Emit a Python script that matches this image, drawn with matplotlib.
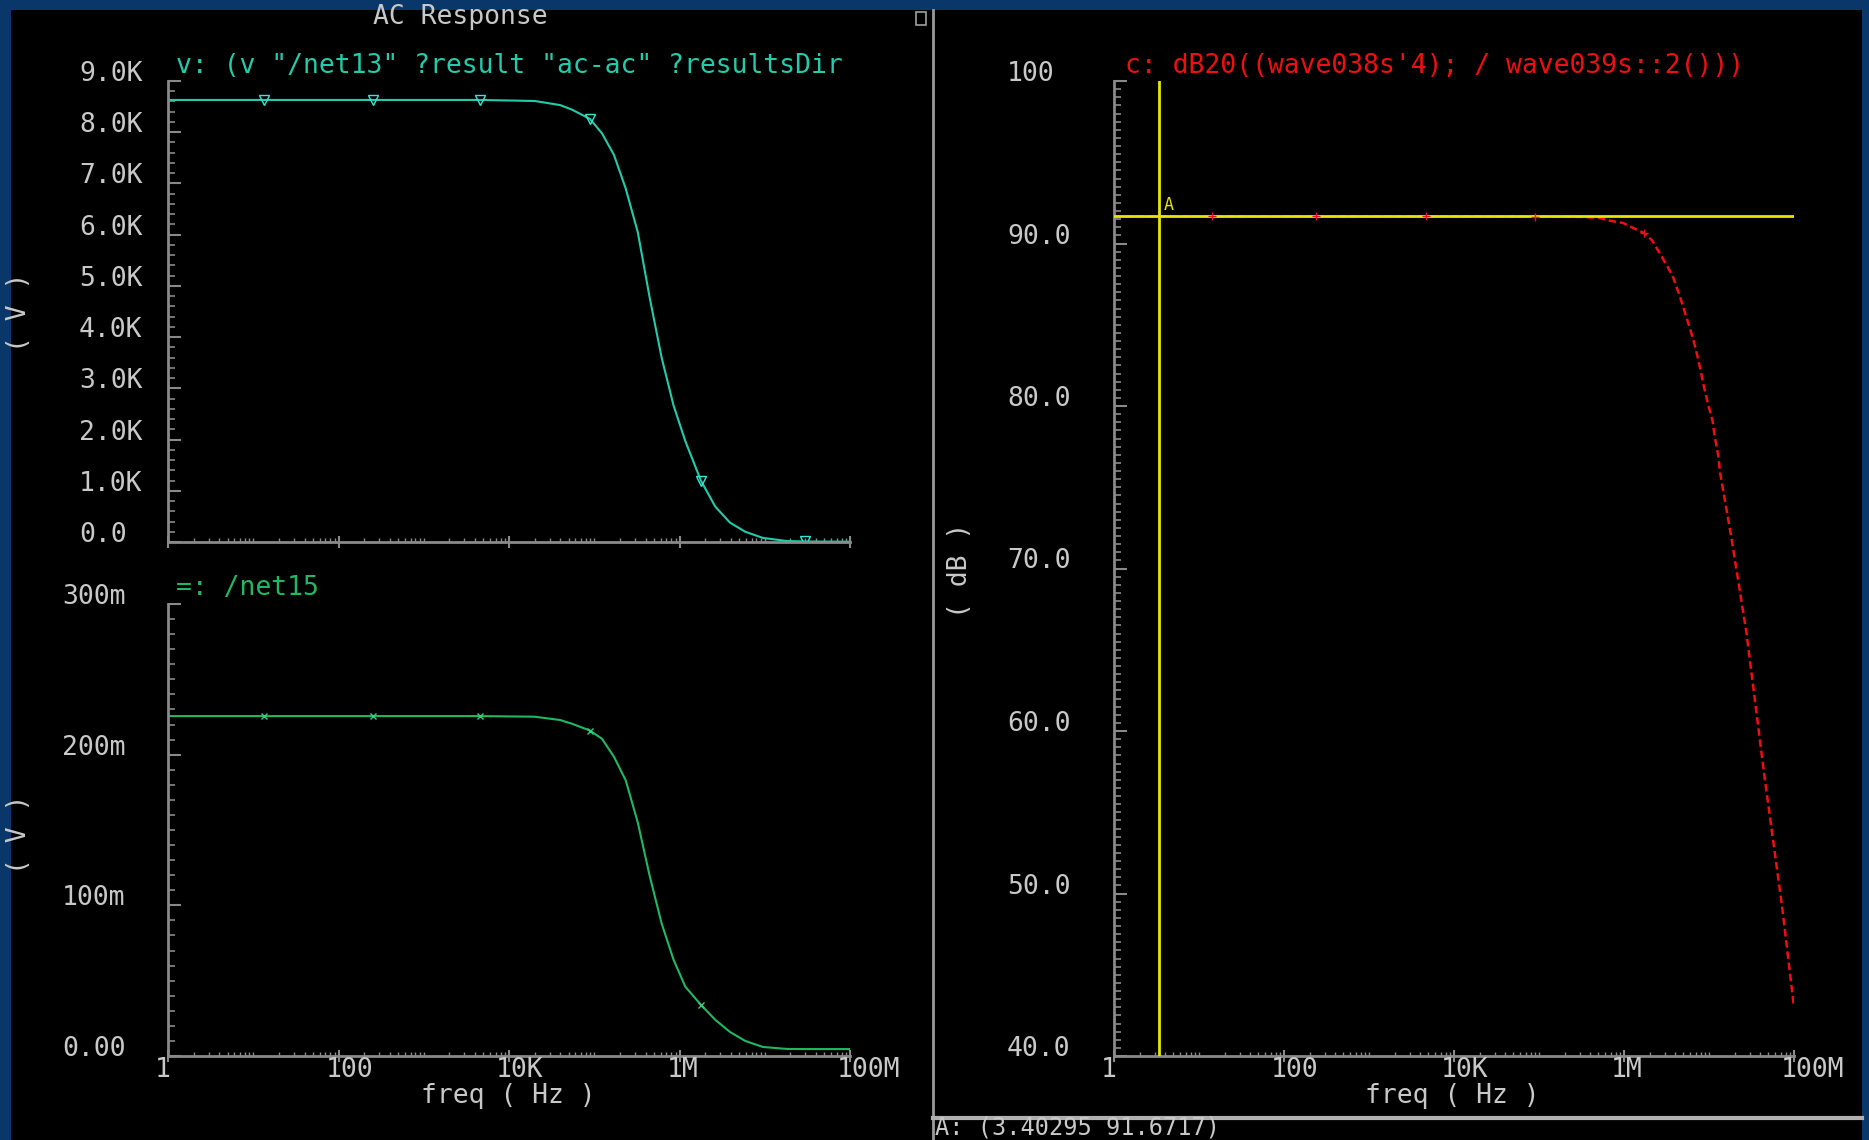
import numpy as np
import matplotlib
matplotlib.use('Agg')
import matplotlib.pyplot as plt
from matplotlib.patches import Rectangle
from matplotlib.lines import Line2D
from matplotlib.ticker import FixedLocator, AutoMinorLocator, LogLocator, NullFormatter
from matplotlib.transforms import blended_transform_factory, ScaledTranslation

W, H = 1869, 1140
DPI = 100

# /net13 and /net15 magnitude vs frequency (Hz, V)
freq_v = [1.0, 13.5, 251, 4570, 2.0e4, 3.98e4, 5.5e4, 8.9e4, 1.23e5, 1.7e5, 2.34e5, 3.24e5,
          4.47e5, 6.17e5, 8.5e5, 1.17e6, 1.78e6, 2.63e6, 3.9e6, 5.9e6, 9.5e6, 1.8e7, 3.0e7, 1.0e8]
net13 = [8630, 8630, 8630, 8630, 8610, 8530, 8440, 8260, 7980, 7560, 6900, 6050,
         4770, 3600, 2670, 1970, 1200, 690, 380, 200, 80, 20, 10, 5]
net15 = [0.2256, 0.2256, 0.2256, 0.2256, 0.2252, 0.2230, 0.2205, 0.2160, 0.2106, 0.1987, 0.1830, 0.1550,
         0.1195, 0.0880, 0.0640, 0.0460, 0.0340, 0.0240, 0.0160, 0.0100, 0.0060, 0.0047, 0.0046, 0.0046]
net13_marks = [1, 2, 3, 7, 16, 22]
net15_marks = [1, 2, 3, 7, 16]

# gain in dB
freq_db = [1.0, 14.1, 240, 4680, 8.9e4, 3.16e5, 5.0e5, 6.9e5, 9.8e5, 1.29e6, 1.70e6, 2.14e6,
           2.63e6, 3.24e6, 3.8e6, 4.57e6, 5.25e6, 6.03e6, 6.92e6, 7.59e6, 8.71e6, 9.77e6,
           1.10e7, 1.17e7, 1.29e7, 1.35e7, 1.82e7, 2.75e7, 4.47e7, 7.24e7, 1.0e8]
gain_db = [91.67, 91.67, 91.67, 91.67, 91.66, 91.64, 91.58, 91.40, 91.26, 90.95, 90.66, 90.2,
           89.4, 88.6, 87.9, 86.7, 85.7, 84.7, 83.6, 82.7, 81.2, 80.1,
           79.1, 78.1, 76.9, 75.9, 72.0, 66.1, 57.3, 49.2, 43.0]
gain_marks = [1, 2, 3, 4, 10]

cursor_f = 3.40295
cursor_db = 91.6717

x_ticks = [1, 1e2, 1e4, 1e6, 1e8]
x_labels = ['1', '100', '10K', '1M', '100M']
v13_ticks = [0, 1000, 2000, 3000, 4000, 5000, 6000, 7000, 8000, 9000]
v13_labels = ['0.0', '1.0K', '2.0K', '3.0K', '4.0K', '5.0K', '6.0K', '7.0K', '8.0K', '9.0K']
v15_ticks = [0, 0.1, 0.2, 0.3]
v15_labels = ['0.00', '100m', '200m', '300m']
db_ticks = [40, 50, 60, 70, 80, 90, 100]
db_labels = ['40.0', '50.0', '60.0', '70.0', '80.0', '90.0', '100']

BLUE = '#0a3769'
GRAY = '#8a8a8a'
TXT = '#c8c8c8'
TEAL = '#22ccaa'
GREEN = '#20b865'
RED = '#ee1010'
YELLOW = '#e6e600'
FS = 19

plt.rcParams['font.family'] = ['DejaVu Sans Mono', 'DejaVu Sans']

fig = plt.figure(figsize=(W / DPI, H / DPI), dpi=DPI, facecolor=BLUE)
fig.add_artist(Rectangle((11 / W, 0), (W - 18) / W, 1 - 10 / H,
                         transform=fig.transFigure, facecolor='black', edgecolor='none', zorder=0))


def px_axes(x0, y0, x1, y1):
    return fig.add_axes([x0 / W, 1 - y1 / H, (x1 - x0) / W, (y1 - y0) / H])


def style_axes(ax, ylim, yticks, ylabels, label_x, minor_n):
    ax.set_facecolor('black')
    ax.set_xscale('log')
    ax.set_xlim(1, 1e8)
    ax.set_ylim(*ylim)
    for s in ('top', 'right'):
        ax.spines[s].set_visible(False)
    for s in ('left', 'bottom'):
        ax.spines[s].set_color(GRAY)
        ax.spines[s].set_linewidth(2)
    ax.xaxis.set_major_locator(FixedLocator(x_ticks))
    ax.xaxis.set_minor_locator(LogLocator(base=10, subs=np.arange(1, 10), numticks=200))
    ax.xaxis.set_minor_formatter(NullFormatter())
    ax.yaxis.set_major_locator(FixedLocator(yticks))
    ax.yaxis.set_minor_locator(AutoMinorLocator(minor_n))
    ax.tick_params(which='both', labelbottom=False, labelleft=False, color=GRAY)
    ax.tick_params(axis='y', which='major', direction='in', length=9, width=1.5)
    ax.tick_params(axis='y', which='minor', direction='in', length=5, width=1.2)
    ax.tick_params(axis='x', which='major', direction='inout', length=8, width=1.5)
    ax.tick_params(axis='x', which='minor', direction='in', length=3, width=1)
    trans = blended_transform_factory(fig.transFigure, ax.transData)
    for v, t in zip(yticks, ylabels):
        ax.text(label_x / W, v, t, transform=trans, ha='left', va='baseline',
                color=TXT, fontsize=FS)


def freq_labels(ax, y_px):
    trans = blended_transform_factory(ax.transData, fig.transFigure) + \
        ScaledTranslation(-13 / DPI, 0, fig.dpi_scale_trans)
    for f, t in zip(x_ticks, x_labels):
        ax.text(f, 1 - y_px / H, t, transform=trans, ha='left', va='center',
                color=TXT, fontsize=FS)


# top left: /net13
ax1 = px_axes(168, 81, 850, 542)
style_axes(ax1, (0, 9000), v13_ticks, v13_labels, 79, 5)
ax1.plot(freq_v, net13, color=TEAL, lw=1.5, marker='v', markersize=7,
         markerfacecolor='none', markeredgecolor='#38e6d6', markevery=net13_marks)

# bottom left: /net15
ax2 = px_axes(168, 604, 850, 1056)
style_axes(ax2, (0, 0.3), v15_ticks, v15_labels, 62, 10)
ax2.plot(freq_v, net15, color=GREEN, lw=1.5, marker='x', markersize=5,
         markeredgecolor='#30d080', markevery=net15_marks)
freq_labels(ax2, 1070)

# right: gain in dB with cursor A
ax3 = px_axes(1114, 81, 1794, 1056)
style_axes(ax3, (40, 100), db_ticks, db_labels, 1007, 20)
ax3.plot(freq_db, gain_db, color=RED, lw=1.8, ls=(0, (3, 1.5)), zorder=2)
ax3.axvline(cursor_f, color=YELLOW, lw=2, zorder=3)
ax3.axhline(cursor_db, color=YELLOW, lw=2, zorder=3)
ax3.plot([freq_db[i] for i in gain_marks], [gain_db[i] for i in gain_marks],
         ls='none', marker='+', markersize=6, color=RED, zorder=4)
ax3.annotate('A', xy=(cursor_f, cursor_db), xytext=(3, 2), textcoords='offset points',
             ha='left', va='bottom', color=YELLOW, fontsize=12)
freq_labels(ax3, 1070)

# panel texts
fig.text(460 / W, 1 - 17 / H, 'AC Response', ha='center', va='center', color=TXT, fontsize=FS)
fig.text(176 / W, 1 - 66 / H, 'v: (v "/net13" ?result "ac-ac" ?resultsDir',
         ha='left', va='center', color=TEAL, fontsize=FS)
fig.text(176 / W, 1 - 588 / H, '=: /net15', ha='left', va='center', color=GREEN, fontsize=FS)
fig.text(1125 / W, 1 - 66 / H, "c: dB20((wave038s'4); / wave039s::2()))",
         ha='left', va='center', color=RED, fontsize=FS)
fig.text(508 / W, 1 - 1096 / H, 'freq ( Hz )', ha='center', va='center', color=TXT, fontsize=FS)
fig.text(1452 / W, 1 - 1096 / H, 'freq ( Hz )', ha='center', va='center', color=TXT, fontsize=FS)
fig.text(19 / W, 1 - 312 / H, '( V )', ha='center', va='center', rotation=90, color=TXT, fontsize=FS)
fig.text(19 / W, 1 - 834 / H, '( V )', ha='center', va='center', rotation=90, color=TXT, fontsize=FS)
fig.text(960 / W, 1 - 570 / H, '( dB )', ha='center', va='center', rotation=90, color=TXT, fontsize=FS)
fig.text(935 / W, 1 - 1128 / H, 'A: (3.40295 91.6717)', ha='left', va='center', color=TXT, fontsize=17)

# panel separators
fig.add_artist(Line2D([933 / W, 933 / W], [0, 1 - 10 / H], transform=fig.transFigure,
                      color='#9a9a9a', lw=2))
fig.add_artist(Line2D([933 / W, 1862 / W], [1 - 1118 / H, 1 - 1118 / H], transform=fig.transFigure,
                      color='#b0b0b0', lw=3))
fig.add_artist(Rectangle((916 / W, 1 - 25 / H), 10 / W, 13 / H, transform=fig.transFigure,
                         facecolor='none', edgecolor='#a0a0a0', lw=1.2))

fig.savefig('out.png', dpi=DPI, facecolor=BLUE)
